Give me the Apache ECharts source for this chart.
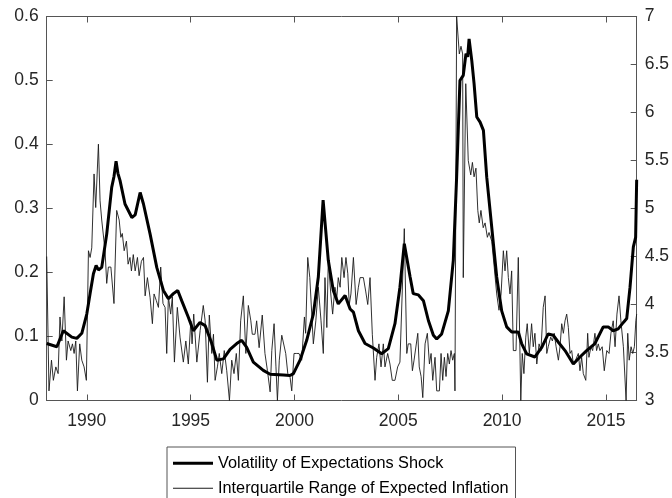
<!DOCTYPE html>
<html>
<head>
<meta charset="utf-8">
<script src="https://cdn.jsdelivr.net/npm/echarts@6/dist/echarts.min.js"></script>
<style>html,body{margin:0;padding:0;background:#fff}#c{width:672px;height:498px}</style>
</head>
<body>
<div id="c"></div>
<script>
// Volatility of Expectations Shock (left axis)
const volYears = [1988.07,1988.56,1988.87,1989.28,1989.52,1989.76,1990.0,1990.16,1990.32,1990.45,1990.56,1990.72,1990.96,1991.2,1991.31,1991.41,1991.5,1991.6,1991.84,1992.17,1992.33,1992.57,1992.73,1993.05,1993.37,1993.69,1993.93,1994.17,1994.38,1994.57,1994.89,1995.13,1995.45,1995.7,1996.02,1996.26,1996.58,1996.9,1997.22,1997.46,1997.7,1998.02,1998.5,1998.83,1999.47,1999.79,1999.95,2000.27,2000.59,2000.91,2001.15,2001.38,2001.63,2001.87,2002.11,2002.44,2002.68,2002.84,2003.08,2003.4,2003.8,2004.2,2004.52,2004.84,2005.08,2005.29,2005.57,2005.72,2005.97,2006.21,2006.45,2006.69,2006.85,2007.09,2007.41,2007.65,2007.81,2007.97,2008.13,2008.26,2008.34,2008.41,2008.54,2008.65,2008.78,2008.94,2009.1,2009.26,2009.5,2009.74,2009.98,2010.22,2010.46,2010.78,2010.94,2011.18,2011.58,2011.91,2012.22,2012.46,2012.71,2013.03,2013.43,2013.75,2014.07,2014.47,2014.87,2015.11,2015.35,2015.59,2015.84,2016.0,2016.16,2016.32,2016.43,2016.48];
const volValues = [0.089,0.084,0.109,0.099,0.097,0.105,0.135,0.167,0.198,0.211,0.204,0.208,0.26,0.333,0.35,0.374,0.355,0.344,0.307,0.286,0.29,0.325,0.307,0.26,0.208,0.172,0.159,0.167,0.172,0.156,0.13,0.109,0.122,0.117,0.089,0.063,0.065,0.08,0.089,0.094,0.083,0.06,0.047,0.041,0.04,0.039,0.042,0.063,0.094,0.135,0.193,0.313,0.219,0.172,0.151,0.164,0.143,0.138,0.109,0.089,0.082,0.073,0.081,0.12,0.177,0.245,0.193,0.167,0.165,0.156,0.125,0.102,0.096,0.104,0.14,0.219,0.349,0.5,0.508,0.542,0.537,0.565,0.531,0.495,0.443,0.435,0.422,0.349,0.271,0.193,0.14,0.115,0.107,0.107,0.089,0.073,0.068,0.083,0.104,0.102,0.091,0.078,0.057,0.068,0.078,0.089,0.115,0.115,0.109,0.112,0.122,0.128,0.177,0.24,0.255,0.345];

// Interquartile Range of Expected Inflation (right axis)
const iqrYears = [1988.07,1988.18,1988.30,1988.39,1988.51,1988.62,1988.71,1988.80,1988.91,1989.02,1989.10,1989.23,1989.31,1989.39,1989.47,1989.55,1989.66,1989.76,1989.87,1989.98,1990.08,1990.16,1990.24,1990.35,1990.43,1990.56,1990.64,1990.72,1990.80,1990.88,1990.96,1991.04,1991.16,1991.31,1991.44,1991.56,1991.64,1991.71,1991.80,1991.91,1991.99,1992.08,1992.15,1992.24,1992.33,1992.44,1992.52,1992.63,1992.73,1992.81,1992.92,1993.05,1993.16,1993.24,1993.35,1993.45,1993.56,1993.67,1993.77,1993.85,1993.93,1994.04,1994.12,1994.22,1994.36,1994.49,1994.65,1994.77,1994.89,1995.01,1995.07,1995.15,1995.30,1995.46,1995.61,1995.70,1995.81,1995.90,1996.02,1996.10,1996.18,1996.29,1996.38,1996.50,1996.62,1996.74,1996.87,1996.98,1997.09,1997.20,1997.30,1997.41,1997.54,1997.66,1997.78,1997.90,1997.97,1998.10,1998.18,1998.30,1998.45,1998.58,1998.70,1998.83,1998.91,1999.02,1999.11,1999.18,1999.27,1999.39,1999.47,1999.58,1999.68,1999.79,1999.87,1999.98,2000.11,2000.22,2000.35,2000.48,2000.54,2000.64,2000.74,2000.83,2000.91,2001.03,2001.15,2001.28,2001.39,2001.47,2001.56,2001.63,2001.75,2001.84,2001.95,2002.04,2002.11,2002.20,2002.28,2002.39,2002.48,2002.57,2002.64,2002.72,2002.84,2002.97,2003.08,2003.16,2003.32,2003.43,2003.53,2003.64,2003.75,2003.88,2003.96,2004.07,2004.17,2004.28,2004.36,2004.49,2004.60,2004.71,2004.84,2004.97,2005.08,2005.17,2005.29,2005.41,2005.48,2005.60,2005.68,2005.76,2005.84,2005.94,2006.01,2006.10,2006.18,2006.29,2006.40,2006.50,2006.58,2006.66,2006.77,2006.85,2006.98,2007.06,2007.14,2007.22,2007.30,2007.38,2007.46,2007.54,2007.62,2007.70,2007.73,2007.81,2007.94,2008.02,2008.10,2008.13,2008.25,2008.37,2008.49,2008.57,2008.65,2008.74,2008.83,2008.90,2008.98,2009.09,2009.18,2009.29,2009.37,2009.50,2009.62,2009.74,2009.85,2009.95,2010.06,2010.14,2010.22,2010.30,2010.38,2010.46,2010.54,2010.67,2010.78,2010.90,2010.97,2011.05,2011.14,2011.21,2011.31,2011.42,2011.50,2011.58,2011.67,2011.78,2011.87,2011.98,2012.07,2012.15,2012.22,2012.34,2012.42,2012.51,2012.60,2012.71,2012.79,2012.87,2012.95,2013.03,2013.11,2013.19,2013.27,2013.35,2013.43,2013.54,2013.67,2013.75,2013.83,2013.91,2014.03,2014.12,2014.18,2014.28,2014.36,2014.47,2014.55,2014.63,2014.71,2014.82,2014.92,2015.04,2015.15,2015.24,2015.35,2015.44,2015.53,2015.63,2015.72,2015.84,2015.97,2016.05,2016.12,2016.21,2016.29,2016.37,2016.44,2016.48];
const iqrValues = [4.5,3.10,3.42,3.21,3.35,3.28,3.87,3.62,4.08,3.42,3.62,3.52,3.59,3.49,3.62,3.10,3.59,3.42,3.35,3.21,4.56,4.49,4.59,5.36,5.01,5.67,5.08,4.88,4.86,4.56,4.22,4.39,4.39,4.01,4.98,4.88,4.70,4.74,4.56,4.66,4.42,4.49,4.35,4.52,4.35,4.49,4.30,4.45,4.49,4.09,4.28,4.07,3.80,4.11,4.04,3.97,4.39,4.01,3.97,3.49,4.08,3.9,4.08,3.40,3.97,3.66,3.40,3.62,3.38,3.83,3.59,3.9,3.40,3.73,3.99,3.83,3.19,3.89,3.49,3.69,3.21,3.35,3.49,3.28,3.52,3.31,3.0,3.42,3.28,3.49,3.21,3.83,4.09,3.49,3.99,3.83,3.69,3.69,3.83,3.55,3.89,3.49,3.31,3.09,3.52,3.80,3.35,3.0,3.42,3.68,3.69,3.49,3.28,3.24,3.10,3.49,3.49,3.49,3.42,3.87,3.70,4.49,4.28,4.28,3.59,3.83,4.18,3.83,3.49,4.28,3.76,4.46,4.11,3.90,4.18,4.07,4.28,4.18,4.49,4.28,4.49,4.32,4.0,4.11,4.49,4.0,4.18,4.28,4.28,4.14,4.0,4.28,3.69,3.21,3.45,3.59,3.35,3.59,3.35,3.49,3.38,3.21,3.21,3.35,3.40,3.42,4.79,3.49,3.59,3.59,3.31,3.42,3.42,3.70,3.35,3.25,3.03,3.59,3.70,3.38,3.49,3.21,3.45,3.10,3.10,3.49,3.21,3.45,3.25,3.49,3.38,3.52,3.42,3.49,3.10,7.0,6.61,6.69,6.61,4.28,6.30,5.5,5.35,5.48,5.33,5.42,4.98,4.85,4.98,4.8,4.85,4.70,4.75,4.66,4.39,4.11,3.94,4.11,4.56,4.35,4.56,4.28,4.11,4.35,3.52,3.52,4.49,3.0,3.49,3.28,3.66,3.80,3.49,3.80,3.56,3.70,3.38,3.59,3.52,3.97,4.09,3.49,3.56,3.66,3.62,3.70,3.56,3.42,3.56,3.80,3.70,3.83,3.90,3.76,3.49,3.52,3.38,3.42,3.49,3.31,3.45,3.28,3.21,3.70,3.45,3.56,3.52,3.70,3.52,3.59,3.52,3.56,3.31,3.52,3.49,3.70,3.83,3.56,3.90,4.09,3.83,3.56,3.0,3.70,3.42,3.56,3.49,3.56,3.83,3.9];

const xTickLabels = [1990, 1995, 2000, 2005, 2010, 2015];
const seriesNames = ['Volatility of Expectations Shock', 'Interquartile Range of Expected Inflation'];

const zip = (a, b) => a.map((v, i) => [v, b[i]]);
const FONT = "'Liberation Sans', Arial, sans-serif";
const AX = '#555';
const TXT = '#262626';

const legendCommon = {
  orient: 'horizontal', left: 173, padding: 0,
  itemWidth: 40, itemTextGap: 5, selectedMode: false,
  textStyle: {fontSize: 16.3, color: '#000', fontFamily: FONT, lineHeight: 18}
};

const chart = echarts.init(document.getElementById('c'), null, {renderer: 'canvas'});
chart.setOption({
  animation: false,
  backgroundColor: '#fff',
  textStyle: {fontFamily: FONT},
  grid: {left: 46.7, right: 35.3, top: 16.5, bottom: 97.5, containLabel: false},
  graphic: [{
    type: 'rect', left: 166.5, top: 446.5, silent: true,
    shape: {width: 348.5, height: 70},
    style: {fill: '#fff', stroke: '#555', lineWidth: 1}, z: 0
  }],
  legend: [
    Object.assign({}, legendCommon, {
      top: 454.3, itemHeight: 3,
      data: [{name: seriesNames[0], icon: 'rect', itemStyle: {color: '#000'}}]
    }),
    Object.assign({}, legendCommon, {
      top: 479.3, itemHeight: 1,
      data: [{name: seriesNames[1], icon: 'rect', itemStyle: {color: '#1a1a1a'}}]
    })
  ],
  xAxis: [
    {
      type: 'value', position: 'bottom', min: 1988.07, max: 2016.48,
      axisLine: {show: true, onZero: false, lineStyle: {color: AX, width: 1}},
      axisTick: {show: true, inside: true, length: 6, customValues: xTickLabels, lineStyle: {color: AX}},
      axisLabel: {show: true, customValues: xTickLabels, fontSize: 17.5, color: TXT, margin: 12, fontFamily: FONT,
                  formatter: v => String(Math.round(v))},
      splitLine: {show: false}
    },
    {
      type: 'value', position: 'top', min: 1988.07, max: 2016.48,
      axisLine: {show: true, onZero: false, lineStyle: {color: AX, width: 1}},
      axisTick: {show: true, inside: true, length: 6, customValues: xTickLabels, lineStyle: {color: AX}},
      axisLabel: {show: false},
      splitLine: {show: false}
    }
  ],
  yAxis: [
    {
      type: 'value', position: 'left', min: 0, max: 0.6, interval: 0.1,
      axisLine: {show: true, onZero: false, lineStyle: {color: AX, width: 1}},
      axisTick: {show: true, inside: true, length: 6, lineStyle: {color: AX}},
      axisLabel: {fontSize: 17.5, color: TXT, margin: 8, fontFamily: FONT},
      splitLine: {show: false}
    },
    {
      type: 'value', position: 'right', min: 3, max: 7, interval: 0.5,
      axisLine: {show: true, onZero: false, lineStyle: {color: AX, width: 1}},
      axisTick: {show: true, inside: true, length: 6, lineStyle: {color: AX}},
      axisLabel: {fontSize: 17.5, color: TXT, margin: 8, fontFamily: FONT},
      splitLine: {show: false}
    }
  ],
  series: [
    {
      name: seriesNames[1], type: 'line', xAxisIndex: 0, yAxisIndex: 1,
      data: zip(iqrYears, iqrValues), symbol: 'none', smooth: false,
      lineStyle: {color: '#1a1a1a', width: 0.9}, itemStyle: {color: '#1a1a1a'}, z: 2
    },
    {
      name: seriesNames[0], type: 'line', xAxisIndex: 0, yAxisIndex: 0,
      data: zip(volYears, volValues), symbol: 'none', smooth: false,
      lineStyle: {color: '#000', width: 3}, itemStyle: {color: '#000'}, z: 3
    }
  ]
});
</script>
</body>
</html>
